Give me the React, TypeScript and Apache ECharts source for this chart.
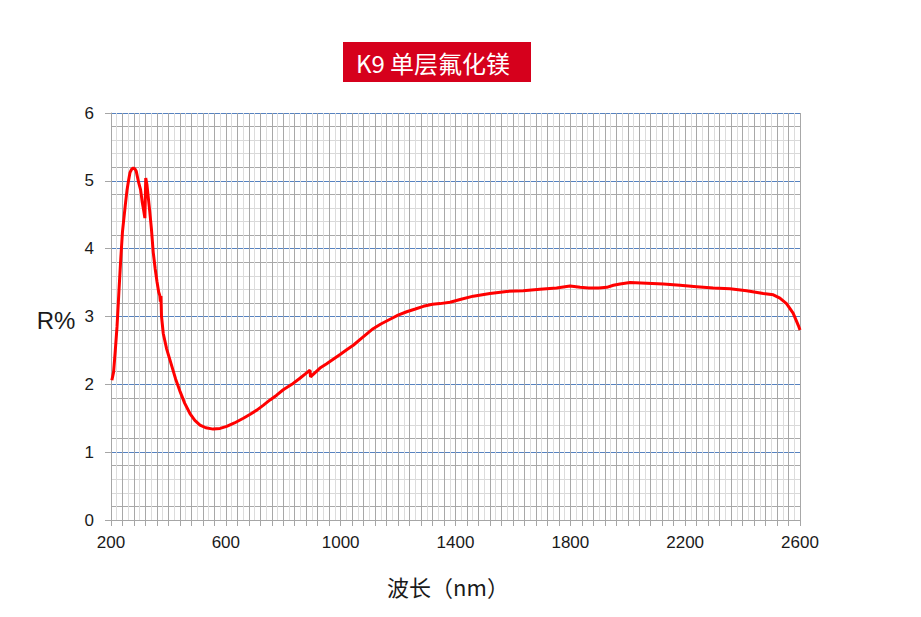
import React, { useEffect, useRef } from "react";
import * as echarts from "echarts";

const titleText = "K9 单层氟化镁";
const xAxisName = "波长（nm）";
const yAxisName = "R%";

const wavelengths = [
  203, 209, 215, 221, 228, 234, 240, 245, 250, 256, 261, 266, 272, 278, 284, 288, 292, 296, 303, 309,
  314, 318, 321, 325, 330, 335, 341, 347, 354, 360, 366, 370, 372, 374, 376, 382, 394, 411, 425, 440,
  457, 475, 492, 510, 530, 556, 580, 603, 630, 661, 685, 708, 730, 754, 777, 800, 830, 858, 876, 893,
  895, 910, 928, 950, 974, 998, 1021, 1045, 1067, 1090, 1113, 1140, 1172, 1200, 1230, 1260, 1288, 1320,
  1346, 1381, 1416, 1462, 1520, 1578, 1636, 1694, 1752, 1799, 1834, 1863, 1900, 1927, 1950, 1973, 2008,
  2066, 2124, 2182, 2240, 2298, 2356, 2414, 2472, 2507, 2530, 2553, 2576, 2594, 2600,
];

const reflectance = [
  2.06, 2.18, 2.5, 2.85, 3.4, 3.85, 4.25, 4.45, 4.65, 4.87, 5.0, 5.12, 5.17, 5.19, 5.17, 5.14, 5.06, 4.98, 4.87, 4.68,
  4.56, 4.45, 5.04, 4.95, 4.75, 4.55, 4.28, 3.95, 3.7, 3.52, 3.36, 3.31, 3.22, 3.3, 3.0, 2.75, 2.52, 2.28, 2.08, 1.9,
  1.72, 1.57, 1.47, 1.4, 1.36, 1.34, 1.35, 1.38, 1.43, 1.5, 1.56, 1.62, 1.69, 1.77, 1.84, 1.92, 2.0, 2.09, 2.15, 2.21,
  2.11, 2.17, 2.24, 2.3, 2.37, 2.44, 2.51, 2.58, 2.66, 2.74, 2.82, 2.89, 2.96, 3.02, 3.07, 3.11, 3.15, 3.18,
  3.19, 3.21, 3.25, 3.3, 3.34, 3.37, 3.38, 3.4, 3.42, 3.45, 3.43, 3.42, 3.42, 3.43, 3.46, 3.48, 3.5,
  3.49, 3.48, 3.46, 3.44, 3.42, 3.41, 3.38, 3.34, 3.32, 3.27, 3.19, 3.05, 2.87, 2.8,
];

const xLabelValues = [200, 600, 1000, 1400, 1800, 2200, 2600];
const yLabelValues = [0, 1, 2, 3, 4, 5, 6];

export default function App() {
  const ref = useRef<HTMLDivElement>(null);

  useEffect(() => {
    if (!ref.current) return;
    const chart = echarts.init(ref.current, undefined, { renderer: "svg" });
    const data = wavelengths.map((w, i) => [w, reflectance[i]]);
    const labelFont = "'Liberation Sans', Arial, sans-serif";

    chart.setOption({
      animation: false,
      backgroundColor: "#ffffff",
      grid: { left: 111, right: 121, top: 113, bottom: 97, containLabel: false },
      xAxis: [
        {
          type: "value",
          min: 200,
          max: 2600,
          interval: 20,
          position: "bottom",
          axisLine: { show: false },
          axisTick: { show: false },
          axisLabel: { show: false },
          splitLine: { show: true, lineStyle: { color: "#dcdcdc", width: 1 } },
        },
        {
          type: "value",
          min: 200,
          max: 2600,
          interval: 40,
          position: "bottom",
          axisLine: { show: true, lineStyle: { color: "#a6a6a6", width: 1 } },
          axisTick: { show: true, inside: false, length: 6, lineStyle: { color: "#a6a6a6" } },
          axisLabel: {
            show: true,
            margin: 14,
            color: "#1a1a1a",
            fontSize: 17,
            fontFamily: labelFont,
            formatter: (v: number) => (xLabelValues.includes(Math.round(v)) ? String(Math.round(v)) : ""),
          },
          splitLine: { show: true, lineStyle: { color: "#a8a8a8", width: 1 } },
        },
      ],
      yAxis: [
        {
          type: "value",
          min: 0,
          max: 6,
          interval: 0.2,
          position: "left",
          axisLine: { show: false },
          axisTick: { show: false },
          axisLabel: { show: false },
          splitLine: {
            show: true,
            lineStyle: { color: ["#a8a8a8", "#a8a8a8", "#d9d9d9", "#d9d9d9", "#a8a8a8"], width: 1 },
          },
        },
        {
          type: "value",
          min: 0,
          max: 6,
          interval: 1,
          position: "left",
          axisLine: { show: true, lineStyle: { color: "#a6a6a6", width: 1 } },
          axisTick: { show: true, inside: false, length: 6, lineStyle: { color: "#a6a6a6" } },
          axisLabel: {
            show: true,
            margin: 17,
            color: "#1a1a1a",
            fontSize: 17,
            fontFamily: labelFont,
            formatter: (v: number) => (yLabelValues.includes(Math.round(v)) ? String(Math.round(v)) : ""),
          },
          splitLine: { show: true, lineStyle: { color: "#5682c0", width: 1 } },
        },
      ],
      series: [
        {
          type: "line",
          xAxisIndex: 1,
          yAxisIndex: 1,
          data,
          showSymbol: false,
          symbol: "none",
          smooth: false,
          lineStyle: { color: "#ff0000", width: 3 },
          z: 10,
        },
      ],
      graphic: [
        {
          type: "rect",
          shape: { x: 343, y: 42, width: 188, height: 40 },
          style: { fill: "#d6001c" },
        },
        {
          type: "text",
          x: 433,
          y: 62,
          style: {
            text: titleText,
            fill: "#ffffff",
            font: "normal 24px 'Noto Sans CJK SC', sans-serif",
            align: "center",
            verticalAlign: "middle",
          },
        },
        {
          type: "text",
          x: 56,
          y: 320,
          style: {
            text: yAxisName,
            fill: "#1a1a1a",
            font: "24px 'Liberation Sans', Arial, sans-serif",
            align: "center",
            verticalAlign: "middle",
          },
        },
        {
          type: "text",
          x: 448,
          y: 586,
          style: {
            text: xAxisName,
            fill: "#1a1a1a",
            font: "22px 'Noto Sans CJK SC', sans-serif",
            align: "center",
            verticalAlign: "middle",
          },
        },
      ],
    });

    return () => chart.dispose();
  }, []);

  return (
    <div
      ref={ref}
      style={{ position: "fixed", left: 0, top: 0, width: 921, height: 617, background: "#ffffff" }}
    />
  );
}
